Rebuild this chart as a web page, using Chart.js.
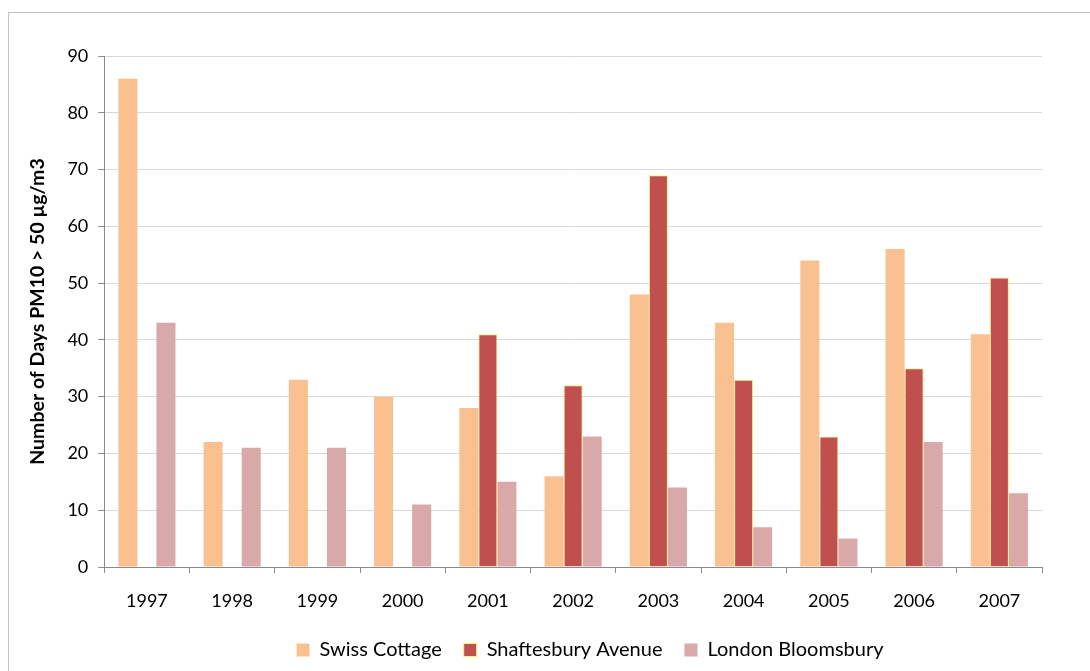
<!DOCTYPE html>
<html>
<head>
<meta charset="utf-8">
<script src="https://cdn.jsdelivr.net/npm/chart.js@4"></script>
<style>
  html, body { margin: 0; padding: 0; background: #fff; overflow: hidden; }
  #frame { position: absolute; left: 8px; top: 12px; width: 2000px; height: 2000px; border: 1px solid #c3c3c3; }
  #c { position: absolute; left: 0; top: 0; }
</style>
</head>
<body>
<div id="frame"></div>
<canvas id="c" width="1090" height="671"></canvas>
<script>
// Days per year with PM10 above 50 µg/m3, by monitoring site
const years = ['1997', '1998', '1999', '2000', '2001', '2002', '2003', '2004', '2005', '2006', '2007'];
const swissCottage = [86, 22, 33, 30, 28, 16, 48, 43, 54, 56, 41];
const shaftesburyAvenue = [null, null, null, null, 41, 32, 69, 33, 23, 35, 51];
const londonBloomsbury = [43, 21, 21, 11, 15, 23, 14, 7, 5, 22, 13];
const yTicks = [0, 10, 20, 30, 40, 50, 60, 70, 80, 90];

const FONT = 'Lato, "Open Sans", sans-serif';
const AXIS = '#8a8a8a';

// Nudges the legend row sideways after layout so it sits under the plot's centre
const legendShift = {
  id: 'legendShift',
  afterLayout(chart, args, opts) {
    const lg = chart.legend;
    if (lg) { lg.left += opts.dx; lg.right += opts.dx; }
  }
};

new Chart(document.getElementById('c'), {
  type: 'bar',
  data: {
    labels: years,
    datasets: [
      { label: 'Swiss Cottage', data: swissCottage, backgroundColor: '#FAC090', borderWidth: 0 },
      { label: 'Shaftesbury Avenue', data: shaftesburyAvenue, backgroundColor: '#C0504D', borderColor: '#F8F07E', borderWidth: 1 },
      { label: 'London Bloomsbury', data: londonBloomsbury, backgroundColor: '#D9A9A9', borderWidth: 0 }
    ]
  },
  plugins: [legendShift],
  options: {
    responsive: false,
    animation: false,
    datasets: { bar: { barPercentage: 1.0, categoryPercentage: 0.67 } },
    layout: { padding: { left: 22, right: 48, top: 56, bottom: 1 } },
    plugins: {
      tooltip: { enabled: false },
      legendShift: { dx: 58 },
      legend: {
        position: 'bottom',
        labels: {
          font: { family: FONT, size: 20 },
          color: '#000',
          boxWidth: 13,
          boxHeight: 13,
          padding: 22
        }
      }
    },
    scales: {
      x: {
        afterFit: (scale) => { scale.height = 51; },
        grid: { drawOnChartArea: false, offset: true, tickLength: 6, tickColor: AXIS },
        border: { color: AXIS, width: 1 },
        ticks: { font: { family: FONT, size: 18 }, color: '#000', padding: 17 }
      },
      y: {
        min: 0,
        max: 90,
        afterBuildTicks: (scale) => { scale.ticks = yTicks.map(v => ({ value: v })); },
        afterFit: (scale) => { scale.width += 4; },
        grid: { color: '#d9d9d9', tickLength: 6, tickColor: AXIS },
        border: { color: AXIS, width: 1 },
        ticks: { font: { family: FONT, size: 18 }, color: '#000', padding: 10 },
        title: {
          display: true,
          text: 'Number of Days PM10 > 50 µg/m3',
          font: { family: FONT, size: 19.5, weight: 'bold' },
          color: '#000'
        }
      }
    }
  }
});
</script>
</body>
</html>
